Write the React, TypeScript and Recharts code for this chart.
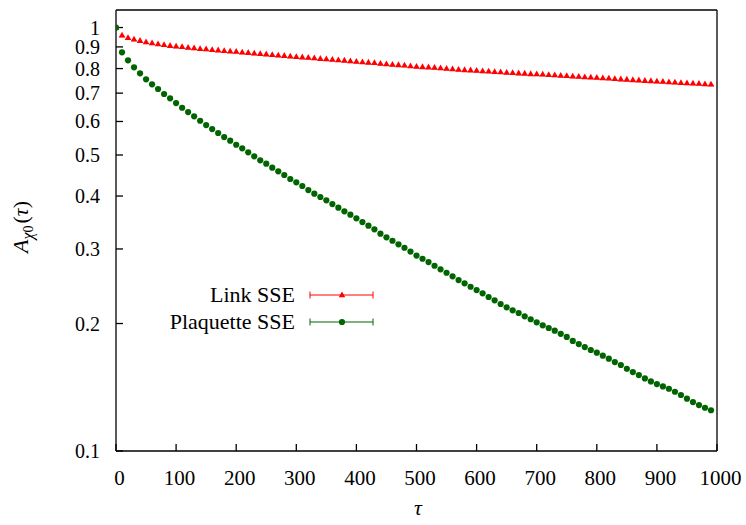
import React from "react";
import { LineChart, Line, XAxis, YAxis, Legend } from "recharts";

// Monte Carlo time tau (every 10 sweeps)
const tau = [
  0, 10, 20, 30, 40, 50, 60, 70, 80, 90,
  100, 110, 120, 130, 140, 150, 160, 170, 180, 190,
  200, 210, 220, 230, 240, 250, 260, 270, 280, 290,
  300, 310, 320, 330, 340, 350, 360, 370, 380, 390,
  400, 410, 420, 430, 440, 450, 460, 470, 480, 490,
  500, 510, 520, 530, 540, 550, 560, 570, 580, 590,
  600, 610, 620, 630, 640, 650, 660, 670, 680, 690,
  700, 710, 720, 730, 740, 750, 760, 770, 780, 790,
  800, 810, 820, 830, 840, 850, 860, 870, 880, 890,
  900, 910, 920, 930, 940, 950, 960, 970, 980, 990,
];

// autocorrelation, link update
const linkSSE = [
  1.0, 0.958, 0.946, 0.938, 0.931, 0.924, 0.919, 0.914, 0.91, 0.906,
  0.903, 0.9, 0.897, 0.894, 0.891, 0.889, 0.886, 0.884, 0.881, 0.879,
  0.877, 0.874, 0.872, 0.869, 0.867, 0.865, 0.862, 0.86, 0.858, 0.855,
  0.853, 0.851, 0.849, 0.847, 0.844, 0.842, 0.84, 0.838, 0.836, 0.833,
  0.831, 0.829, 0.827, 0.825, 0.822, 0.82, 0.818, 0.816, 0.814, 0.811,
  0.809, 0.807, 0.806, 0.804, 0.802, 0.8, 0.798, 0.796, 0.794, 0.793,
  0.791, 0.789, 0.788, 0.786, 0.785, 0.783, 0.782, 0.78, 0.779, 0.777,
  0.776, 0.775, 0.773, 0.772, 0.77, 0.769, 0.767, 0.766, 0.764, 0.763,
  0.762, 0.76, 0.759, 0.757, 0.755, 0.754, 0.752, 0.751, 0.749, 0.748,
  0.746, 0.745, 0.743, 0.742, 0.74, 0.739, 0.738, 0.737, 0.735, 0.734,
];

// autocorrelation, plaquette update
const plaquetteSSE = [
  1.0, 0.8738, 0.8366, 0.8054, 0.7795, 0.7546, 0.7343, 0.7158, 0.6966, 0.6805,
  0.6633, 0.6465, 0.6316, 0.617, 0.6024, 0.5885, 0.5758, 0.5635, 0.5513, 0.5404,
  0.5287, 0.5185, 0.5074, 0.4965, 0.4858, 0.4769, 0.4666, 0.4576, 0.4485, 0.4388,
  0.431, 0.4224, 0.4133, 0.4051, 0.3979, 0.3908, 0.383, 0.3754, 0.3681, 0.3614,
  0.3543, 0.3472, 0.3404, 0.3338, 0.3259, 0.3196, 0.3137, 0.3077, 0.302, 0.2958,
  0.2894, 0.2844, 0.2794, 0.2738, 0.2685, 0.2636, 0.2585, 0.2533, 0.2488, 0.2443,
  0.2399, 0.2357, 0.231, 0.2269, 0.2224, 0.2184, 0.2149, 0.2118, 0.208, 0.2047,
  0.2013, 0.1981, 0.1952, 0.1924, 0.1891, 0.1859, 0.1819, 0.1789, 0.176, 0.1732,
  0.1707, 0.1679, 0.1652, 0.1622, 0.1596, 0.1564, 0.1536, 0.1511, 0.1484, 0.146,
  0.1439, 0.1421, 0.1403, 0.138, 0.1356, 0.1329, 0.1305, 0.1284, 0.1265, 0.1248,
];

const xTicks = [0, 100, 200, 300, 400, 500, 600, 700, 800, 900, 1000];
const yTicks = [0.1, 0.2, 0.3, 0.4, 0.5, 0.6, 0.7, 0.8, 0.9, 1];

const RED = "#ff0000";
const GREEN = "#006400";
const FONT = "'Liberation Serif', 'DejaVu Serif', serif";
const txt = { fontFamily: FONT };

const data = tau.map((t, i) => ({
  tau: t,
  link: linkSSE[i],
  plaquette: plaquetteSSE[i],
}));

// filled triangle, with the small error-bar cap under it
const Triangle = (props: any) => {
  const { cx, cy, index } = props;
  if (cx == null || cy == null) return <g key={index} />;
  return (
    <g key={index}>
      <line x1={cx - 3} x2={cx + 3} y1={cy + 1.5} y2={cy + 1.5} stroke={RED} strokeOpacity={0.5} strokeWidth={1} />
      <path d={`M${cx},${cy - 3.6} L${cx + 3.3},${cy + 2.2} L${cx - 3.3},${cy + 2.2} Z`} fill={RED} />
    </g>
  );
};

const Circle = (props: any) => {
  const { cx, cy, index } = props;
  if (cx == null || cy == null) return <g key={index} />;
  return <circle key={index} cx={cx} cy={cy} r={3.1} fill={GREEN} />;
};

const XTick = (props: any) => {
  const { x, y, payload } = props;
  return (
    <text x={x + 3.5} y={y + 31} textAnchor="middle" style={txt} fontSize={21} fill="#000">
      {payload.value}
    </text>
  );
};

const YTick = (props: any) => {
  const { x, y, payload } = props;
  return (
    <text x={x} y={y + 7} textAnchor="end" style={txt} fontSize={20} fill="#000">
      {String(payload.value)}
    </text>
  );
};

const YLabel = () => (
  <text
    transform="rotate(-90 28 227)"
    x={28}
    y={227}
    textAnchor="middle"
    style={txt}
    fontSize={22}
    fill="#000"
  >
    <tspan fontStyle="italic">A</tspan>
    <tspan fontStyle="italic" fontSize={16} dy={5}>χ</tspan>
    <tspan fontSize={14}>0</tspan>
    <tspan dy={-5} dx={2}>(</tspan>
    <tspan fontStyle="italic">τ</tspan>
    <tspan>)</tspan>
  </text>
);

const XLabel = () => (
  <text x={418} y={515} textAnchor="middle" style={txt} fontSize={22} fontStyle="italic" fill="#000">
    τ
  </text>
);

const legendItems = [
  { name: "Link SSE", color: RED, marker: "triangle", y: 295 },
  { name: "Plaquette SSE", color: GREEN, marker: "circle", y: 322 },
];

const KeyBox = () => (
  <svg width={746} height={525} style={{ position: "absolute", left: 0, top: 0 }}>
    {legendItems.map((item) => (
      <g key={item.name}>
        <text x={295} y={item.y + 7} textAnchor="end" style={txt} fontSize={22} fill="#000">
          {item.name}
        </text>
        <line x1={310} x2={373} y1={item.y} y2={item.y} stroke={item.color} strokeWidth={1} />
        <line x1={310} x2={310} y1={item.y - 3.5} y2={item.y + 3.5} stroke={item.color} strokeWidth={1} />
        <line x1={373} x2={373} y1={item.y - 3.5} y2={item.y + 3.5} stroke={item.color} strokeWidth={1} />
        {item.marker === "triangle" ? (
          <path d={`M342,${item.y - 3.6} L345.3,${item.y + 2.2} L338.7,${item.y + 2.2} Z`} fill={item.color} />
        ) : (
          <circle cx={342} cy={item.y} r={3.1} fill={item.color} />
        )}
      </g>
    ))}
  </svg>
);

const axisLine = { stroke: "#000", strokeWidth: 1.3 };
const tickLine = { stroke: "#000", strokeWidth: 1.3 };

export default function App() {
  return (
    <div
      style={{
        position: "absolute",
        left: 0,
        top: 0,
        width: 746,
        height: 525,
        background: "#fff",
        fontFamily: FONT,
      }}
    >
      <LineChart
        width={746}
        height={525}
        data={data}
        margin={{ top: 0, right: 0, bottom: 34, left: 0 }}
      >
        <XAxis
          xAxisId="bottom"
          dataKey="tau"
          type="number"
          domain={[0, 1000]}
          allowDataOverflow
          ticks={xTicks}
          interval={0}
          height={40}
          tickSize={-7}
          tickMargin={10}
          axisLine={axisLine}
          tickLine={tickLine}
          tick={<XTick />}
          label={<XLabel />}
        />
        <XAxis
          xAxisId="top"
          orientation="top"
          dataKey="tau"
          type="number"
          domain={[0, 1000]}
          allowDataOverflow
          ticks={xTicks}
          interval={0}
          height={10}
          tickSize={-7}
          axisLine={axisLine}
          tickLine={tickLine}
          tick={false}
        />
        <YAxis
          yAxisId="left"
          scale="log"
          type="number"
          domain={[0.1, 1.1]}
          allowDataOverflow
          ticks={yTicks}
          interval={0}
          width={116}
          tickSize={-7}
          tickMargin={23}
          axisLine={axisLine}
          tickLine={tickLine}
          tick={<YTick />}
          label={<YLabel />}
        />
        <YAxis
          yAxisId="right"
          orientation="right"
          scale="log"
          type="number"
          domain={[0.1, 1.1]}
          allowDataOverflow
          ticks={yTicks}
          interval={0}
          width={29}
          tickSize={-7}
          axisLine={axisLine}
          tickLine={tickLine}
          tick={false}
        />
        <Legend
          layout="vertical"
          align="center"
          verticalAlign="middle"
          wrapperStyle={{ position: "absolute", left: 0, top: 0, width: 746, height: 525 }}
          content={() => <KeyBox />}
        />
        <Line
          xAxisId="bottom"
          yAxisId="left"
          dataKey="link"
          name="Link SSE"
          stroke="none"
          dot={Triangle}
          activeDot={false}
          isAnimationActive={false}
        />
        <Line
          xAxisId="bottom"
          yAxisId="left"
          dataKey="plaquette"
          name="Plaquette SSE"
          stroke="none"
          dot={Circle}
          activeDot={false}
          isAnimationActive={false}
        />
      </LineChart>
    </div>
  );
}
